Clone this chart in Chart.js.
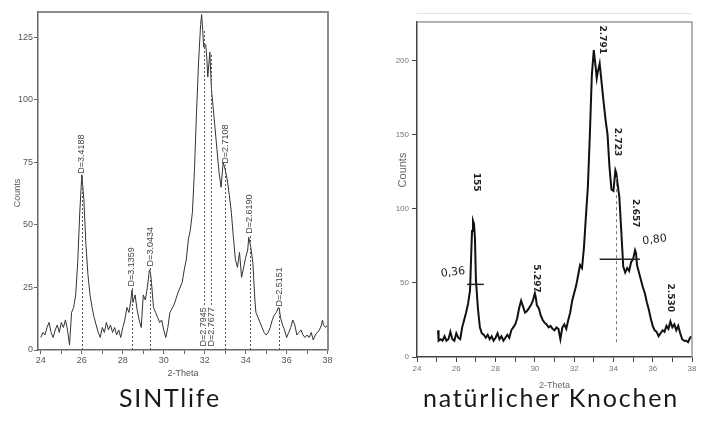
<!DOCTYPE html>
<html><head><meta charset="utf-8">
<script src="https://cdn.jsdelivr.net/npm/chart.js@4.4.1/dist/chart.umd.min.js"></script>
<style>
html,body{margin:0;padding:0;background:#fff;width:702px;height:423px;overflow:hidden}
#w1{position:absolute;left:0;top:0;width:340px;height:385px}
#w2{position:absolute;left:360px;top:0;width:342px;height:395px}
.cap{position:absolute;top:382px;font-family:"Lato","Open Sans",sans-serif;font-size:25px;letter-spacing:1.8px;color:#1a1a1a;white-space:nowrap;transform:translateX(-50%);line-height:30px}
</style></head><body>
<div id="w1"><canvas id="c1"></canvas></div>
<div id="w2"><canvas id="c2"></canvas></div>
<div class="cap" id="cap1" style="left:170px">SINTlife</div>
<div class="cap" id="cap2" style="left:551px">natürlicher Knochen</div>
<script>
// ---------- data: SINTlife ----------
const leftTheta = [24.0,24.1,24.2,24.3,24.4,24.5,24.6,24.7,24.8,24.9,25.0,25.1,25.2,25.3,25.4,25.5,25.6,25.7,25.8,25.9,26.0,26.1,26.2,26.3,26.4,26.5,26.6,26.7,26.8,26.9,27.0,27.1,27.2,27.3,27.4,27.5,27.6,27.7,27.8,27.9,28.0,28.1,28.2,28.3,28.4,28.45,28.5,28.6,28.7,28.8,28.9,29.0,29.1,29.2,29.3,29.35,29.4,29.5,29.6,29.7,29.8,29.9,30.0,30.1,30.2,30.3,30.5,30.7,30.9,31.0,31.1,31.2,31.3,31.4,31.5,31.6,31.7,31.8,31.85,31.9,31.95,32.05,32.1,32.15,32.25,32.33,32.4,32.5,32.6,32.7,32.8,32.9,33.0,33.1,33.2,33.3,33.4,33.5,33.6,33.7,33.8,33.9,34.0,34.1,34.15,34.25,34.35,34.45,34.5,34.6,34.7,34.8,34.9,35.0,35.1,35.2,35.3,35.4,35.5,35.6,35.65,35.7,35.8,35.9,36.0,36.1,36.2,36.3,36.4,36.5,36.6,36.7,36.8,36.9,37.0,37.1,37.2,37.3,37.4,37.5,37.6,37.7,37.75,37.8,37.9,38.0];
const leftCounts = [5,7,6,9,11,7,5,8,10,7,11,9,12,8,2,15,17,22,35,55,70,60,42,30,22,17,13,10,7,5,9,7,11,8,10,7,9,6,8,5,9,12,17,15,20,24,19,22,16,12,9,22,20,25,32,31,27,17,15,13,11,12,8,5,9,15,18,23,27,32,36,44,48,55,72,95,115,130,134,128,121,122,117,109,119,104,98,89,80,71,65,75,72,68,62,55,45,36,33,39,29,33,37,40,45,41,35,20,15,13,11,9,7,6,7,9,12,14,15,17,16,13,10,8,5,7,9,12,10,6,7,8,6,5,6,5,7,4,6,7,8,10,12,10,9,10];
const leftXTicks = [24,25,26,27,28,29,30,31,32,33,34,35,36,37,38];
const leftYTicks = [0,25,50,75,100,125];
const leftPeakTheta = [26.0,28.45,29.35,31.95,32.32,33.0,34.2,35.65];
const leftPeakLabels = ['D=3.4188','D=3.1359','D=3.0434','D=2.7945','D=2.7677','D=2.7108','D=2.6190','D=2.5151'];
const leftLabelFrom = [70,25,33,1,1,74,46,17];
const leftLineFrom = [0,0,0,18,18,0,0,0];
const leftLineTo = [70,25,33,128,118,74,46,17];

// ---------- data: natürlicher Knochen ----------
const rightTheta = [25.07,25.1,25.2,25.3,25.4,25.5,25.6,25.7,25.8,25.9,26.0,26.1,26.2,26.3,26.4,26.5,26.6,26.7,26.8,26.85,26.9,26.95,27.0,27.1,27.2,27.3,27.4,27.5,27.6,27.7,27.8,27.9,28.0,28.1,28.2,28.3,28.4,28.5,28.6,28.7,28.8,28.9,29.0,29.1,29.2,29.3,29.4,29.5,29.6,29.7,29.8,29.9,30.0,30.05,30.1,30.2,30.3,30.4,30.5,30.6,30.7,30.8,30.9,31.0,31.1,31.2,31.3,31.4,31.5,31.6,31.7,31.8,31.9,32.0,32.1,32.2,32.3,32.4,32.5,32.6,32.7,32.8,32.9,33.0,33.1,33.15,33.2,33.3,33.4,33.5,33.6,33.7,33.8,33.9,34.0,34.1,34.15,34.2,34.3,34.4,34.5,34.6,34.7,34.8,34.9,35.0,35.1,35.15,35.2,35.3,35.4,35.5,35.6,35.7,35.8,35.9,36.0,36.1,36.2,36.3,36.4,36.5,36.6,36.7,36.8,36.9,37.0,37.1,37.2,37.3,37.4,37.5,37.6,37.7,37.8,37.9,38.0];
const rightCounts = [18,11,12,11,14,11,12,17,12,11,16,13,12,20,25,30,36,45,85,92,90,80,52,33,20,16,15,13,15,12,14,11,13,16,12,14,11,13,15,13,18,20,22,26,33,38,34,30,31,33,35,38,43,40,35,33,28,25,23,22,20,21,19,18,20,19,12,20,22,19,25,30,38,43,48,55,62,60,74,95,115,150,190,207,195,188,192,198,185,172,160,150,128,113,112,126,124,118,108,85,61,57,60,58,64,66,72,70,62,57,52,47,43,37,32,26,21,18,17,14,16,18,17,21,19,24,20,22,18,21,16,12,11,11,10,13,14];
const rightXTicks = [24,25,26,27,28,29,30,31,32,33,34,35,36,37,38];
const rightYTicks = [0,50,100,150,200];
const rightNoteTheta = [27.0,33.42,34.18,35.1,30.1,36.88,25.83,36.1];
const rightNoteText = ['155','2.791','2.723','2.657','5.297','2.530','0,36','0,80'];
const rightNoteValue = [118,214,145,97,53,40,57,79];
const rightNoteRotated = [true,true,true,true,true,true,false,false];
const rightWidthLines = [[26.55,27.4,49],[33.3,35.35,66]];
const rightDashTheta = 34.12;
const rightDashSpan = [10,122];

Chart.defaults.font.family = '"Liberation Sans Narrow","Liberation Sans",sans-serif';

const tickFont1 = {size:9};
const leftPlugin = {
  id:'leftAnno',
  afterDatasetsDraw(chart){
    const {ctx, chartArea:a, scales:{x,y}} = chart;
    ctx.save();
    ctx.strokeStyle='#8c8c8c'; ctx.lineWidth=2;
    ctx.beginPath(); ctx.moveTo(a.left,a.top); ctx.lineTo(a.right,a.top); ctx.lineTo(a.right,a.bottom); ctx.stroke();
    ctx.setLineDash([2,2]); ctx.lineWidth=1; ctx.strokeStyle='#555';
    leftPeakTheta.forEach((t,i)=>{
      const px=Math.round(x.getPixelForValue(t))+0.5;
      ctx.beginPath(); ctx.moveTo(px,y.getPixelForValue(leftLineFrom[i])); ctx.lineTo(px,y.getPixelForValue(leftLineTo[i])); ctx.stroke();
    });
    ctx.setLineDash([]);
    ctx.fillStyle='#444'; ctx.font='9px "Liberation Sans Narrow","Liberation Sans",sans-serif';
    ctx.textBaseline='middle'; ctx.textAlign='left';
    leftPeakTheta.forEach((t,i)=>{
      ctx.save(); ctx.translate(x.getPixelForValue(t), y.getPixelForValue(leftLabelFrom[i])-1);
      ctx.rotate(-Math.PI/2); ctx.fillText(leftPeakLabels[i],0,0); ctx.restore();
    });
    ctx.fillStyle='#555'; ctx.textAlign='center';
    ctx.fillText('2-Theta',(a.left+a.right)/2,a.bottom+24);
    ctx.save(); ctx.translate(18,(a.top+a.bottom)/2+12); ctx.rotate(-Math.PI/2); ctx.fillText('Counts',0,0); ctx.restore();
    ctx.restore();
  }
};
const rightPlugin = {
  id:'rightAnno',
  afterDatasetsDraw(chart){
    const {ctx, chartArea:a, scales:{x,y}} = chart;
    ctx.save();
    ctx.strokeStyle='#999'; ctx.lineWidth=1.5;
    ctx.beginPath(); ctx.moveTo(a.left,a.top); ctx.lineTo(a.right,a.top); ctx.lineTo(a.right,a.bottom); ctx.stroke();
    ctx.strokeStyle='#e4e4e4'; ctx.lineWidth=1;
    ctx.beginPath(); ctx.moveTo(a.left,a.top-8.5); ctx.lineTo(a.right,a.top-8.5); ctx.stroke();
    ctx.strokeStyle='#222'; ctx.lineWidth=1.5;
    rightWidthLines.forEach(l=>{
      const py=y.getPixelForValue(l[2]);
      ctx.beginPath(); ctx.moveTo(x.getPixelForValue(l[0]),py); ctx.lineTo(x.getPixelForValue(l[1]),py); ctx.stroke();
    });
    ctx.setLineDash([3,3]); ctx.lineWidth=1; ctx.strokeStyle='#777';
    const dx=Math.round(x.getPixelForValue(rightDashTheta))+0.5;
    ctx.beginPath(); ctx.moveTo(dx,y.getPixelForValue(rightDashSpan[0])); ctx.lineTo(dx,y.getPixelForValue(rightDashSpan[1])); ctx.stroke();
    ctx.setLineDash([]);
    ctx.fillStyle='#222'; ctx.textBaseline='middle'; ctx.textAlign='center';
    rightNoteTheta.forEach((t,i)=>{
      ctx.save(); ctx.translate(x.getPixelForValue(t), y.getPixelForValue(rightNoteValue[i]));
      if(rightNoteRotated[i]){ ctx.rotate(Math.PI/2); ctx.font='bold 9px "DejaVu Sans",sans-serif'; }
      else { ctx.rotate(-0.12); ctx.font='11px "DejaVu Sans",sans-serif'; }
      ctx.fillText(rightNoteText[i],0,0); ctx.restore();
    });
    ctx.fillStyle='#666'; ctx.font='9px "Liberation Sans Narrow","Liberation Sans",sans-serif';
    ctx.fillText('2-Theta',(a.left+a.right)/2,a.bottom+29);
    ctx.font='11px "Liberation Sans Narrow","Liberation Sans",sans-serif';
    ctx.save(); ctx.translate(43,170); ctx.rotate(-Math.PI/2); ctx.fillText('Counts',0,0); ctx.restore();
    ctx.restore();
  }
};

function mkTicks(arr){ return s=>{ s.ticks = arr.map(v=>({value:v})); }; }

new Chart(document.getElementById('c1'),{
  type:'line',
  data:{datasets:[{data:leftTheta.map((t,i)=>({x:t,y:leftCounts[i]})),borderColor:'#333',borderWidth:1,pointRadius:0,tension:0}]},
  options:{
    responsive:true,maintainAspectRatio:false,animation:false,devicePixelRatio:1,
    layout:{padding:{left:0,top:12,right:12,bottom:0}},
    plugins:{legend:{display:false},tooltip:{enabled:false}},
    scales:{
      x:{type:'linear',min:23.86,max:38.02,afterBuildTicks:mkTicks(leftXTicks),afterFit:s=>{s.height=35;},
         grid:{drawOnChartArea:false,tickLength:4,color:'#666'},border:{color:'#666',width:1.5},
         ticks:{font:tickFont1,color:'#555',padding:1,maxRotation:0,autoSkip:false,callback:v=>v%2===0?String(v):''}},
      y:{min:0,max:135,afterBuildTicks:mkTicks(leftYTicks),afterFit:s=>{s.width=38;},
         grid:{drawOnChartArea:false,tickLength:4,color:'#666'},border:{color:'#666',width:1.5},
         ticks:{font:tickFont1,color:'#555',padding:1}}
    }
  },
  plugins:[leftPlugin]
});

new Chart(document.getElementById('c2'),{
  type:'line',
  data:{datasets:[{data:rightTheta.map((t,i)=>({x:t,y:rightCounts[i]})),borderColor:'#111',borderWidth:2,pointRadius:0,tension:0}]},
  options:{
    responsive:true,maintainAspectRatio:false,animation:false,devicePixelRatio:1,
    layout:{padding:{left:0,top:22,right:10,bottom:0}},
    plugins:{legend:{display:false},tooltip:{enabled:false}},
    scales:{
      x:{type:'linear',min:24,max:38,afterBuildTicks:mkTicks(rightXTicks),afterFit:s=>{s.height=38;},
         grid:{drawOnChartArea:false,tickLength:5,color:'#444'},border:{color:'#444',width:1.5},
         ticks:{font:{size:8},color:'#777',padding:2,maxRotation:0,autoSkip:false,callback:v=>v%2===0?String(v):''}},
      y:{min:0,max:226,afterBuildTicks:mkTicks(rightYTicks),afterFit:s=>{s.width=57;},
         grid:{drawOnChartArea:false,tickLength:5,color:'#444'},border:{color:'#444',width:1.5},
         ticks:{font:{size:8},color:'#777',padding:3}}
    }
  },
  plugins:[rightPlugin]
});
</script>
</body></html>
